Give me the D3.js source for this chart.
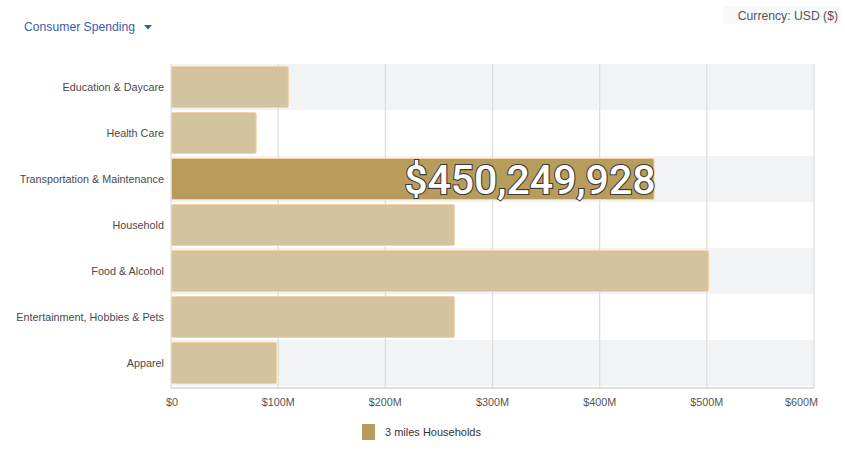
<!DOCTYPE html>
<html>
<head>
<meta charset="utf-8">
<script src="https://cdn.jsdelivr.net/npm/d3@7"></script>
<style>
  body { margin: 0; background: #fff; font-family: 'Liberation Sans', Arial, sans-serif; }
  svg { display: block; }
</style>
</head>
<body>
<div id="chart"></div>
<script>
const categories = [
  'Education & Daycare',
  'Health Care',
  'Transportation & Maintenance',
  'Household',
  'Food & Alcohol',
  'Entertainment, Hobbies & Pets',
  'Apparel',
]
const values = [109e6, 79e6, 450249928, 264e6, 501e6, 264e6, 98e6]
const tickValues = [0, 100e6, 200e6, 300e6, 400e6, 500e6, 600e6]
const highlighted = 'Transportation & Maintenance'
const seriesName = '3 miles Households'

const width = 845
const height = 451
const margin = { top: 64, right: 31, bottom: 65, left: 171 }
const innerW = width - margin.left - margin.right
const innerH = height - margin.top - margin.bottom

const data = categories.map((c, i) => ({ name: c, value: values[i] }))

const svg = d3.select('#chart').append('svg')
  .attr('width', width)
  .attr('height', height)

// header
svg.append('text')
  .attr('x', 24).attr('y', 31)
  .attr('font-size', 12.2)
  .attr('fill', '#3d5ca8')
  .text('Consumer Spending')
svg.append('path')
  .attr('d', 'M144,25 L152,25 L148,29.5 Z')
  .attr('fill', '#3d5ca8')

svg.append('rect')
  .attr('x', 723).attr('y', 6).attr('width', 118).attr('height', 18)
  .attr('fill', '#f8f9fa')
svg.append('text')
  .attr('x', 838).attr('y', 20)
  .attr('text-anchor', 'end')
  .attr('font-size', 12.2)
  .attr('fill', '#555')
  .text('Currency: USD ($)')

const bounds = svg.append('g')
  .attr('transform', `translate(${margin.left}, ${margin.top})`)

const x = d3.scaleLinear().domain([0, 600e6]).range([0, innerW])
const y = d3.scaleBand().domain(categories).range([0, innerH]).padding(0)

// alternating row backgrounds
bounds.selectAll('.row-bg')
  .data(categories)
  .join('rect')
  .attr('class', 'row-bg')
  .attr('x', 0)
  .attr('y', (d) => y(d))
  .attr('width', innerW)
  .attr('height', y.bandwidth())
  .attr('fill', (d, i) => (i % 2 === 0 ? '#f1f3f4' : '#ffffff'))

// gridlines
bounds.selectAll('.grid')
  .data(tickValues)
  .join('line')
  .attr('class', 'grid')
  .attr('x1', (d) => x(d)).attr('x2', (d) => x(d))
  .attr('y1', 0).attr('y2', innerH + 2)
  .attr('stroke', '#dcdcdc')
  .attr('stroke-width', 1.2)

// bars
const inset = 2.5
bounds.selectAll('.bar')
  .data(data)
  .join('rect')
  .attr('class', 'bar')
  .attr('x', 0.5)
  .attr('y', (d) => y(d.name) + inset)
  .attr('width', (d) => x(d.value))
  .attr('height', y.bandwidth() - inset * 2)
  .attr('rx', 1.5)
  .attr('fill', (d) => (d.name === highlighted ? '#b79c5b' : '#d3c49f'))
  .attr('stroke', '#f4d3a4')
  .attr('stroke-width', 1)

// bottom axis line
bounds.append('line')
  .attr('x1', 0).attr('x2', innerW)
  .attr('y1', innerH + 2).attr('y2', innerH + 2)
  .attr('stroke', '#d6d6d6')
  .attr('stroke-width', 1.5)

// category labels
bounds.selectAll('.cat')
  .data(categories)
  .join('text')
  .attr('class', 'cat')
  .attr('x', -7)
  .attr('y', (d) => y(d) + y.bandwidth() / 2 + 4)
  .attr('text-anchor', 'end')
  .attr('font-size', 10.8)
  .attr('fill', '#4a4a4a')
  .text((d) => d)

// tick labels
const fmt = (v) => (v === 0 ? '$0' : `$${v / 1e6}M`)
bounds.selectAll('.tick-label')
  .data(tickValues)
  .join('text')
  .attr('class', 'tick-label')
  .attr('x', (d) => x(d))
  .attr('y', innerH + 20)
  .attr('text-anchor', (d, i) => (i === 0 ? 'start' : i === tickValues.length - 1 ? 'end' : 'middle'))
  .attr('dx', (d, i) => (i === 0 ? -5 : i === tickValues.length - 1 ? 4 : 0))
  .attr('font-size', 10.8)
  .attr('fill', '#555')
  .text(fmt)

// highlighted value label
const hi = data.find((d) => d.name === highlighted)
bounds.append('text')
  .attr('x', x(hi.value) + 2)
  .attr('y', y(hi.name) + y.bandwidth() / 2 + 15)
  .attr('text-anchor', 'end')
  .attr('font-family', 'Roboto, sans-serif')
  .attr('font-size', 41)
  .attr('font-weight', 500)
  .attr('fill', '#fff')
  .attr('stroke', '#3a3a3a')
  .attr('stroke-width', 2.2)
  .attr('paint-order', 'stroke')
  .text(d3.format('$,')(hi.value))

// legend
const legend = svg.append('g').attr('transform', 'translate(362, 424)')
legend.append('rect')
  .attr('width', 13).attr('height', 16)
  .attr('fill', '#b79c5b')
legend.append('text')
  .attr('x', 23).attr('y', 12)
  .attr('font-size', 11)
  .attr('fill', '#333')
  .text(seriesName)
</script>
</body>
</html>
